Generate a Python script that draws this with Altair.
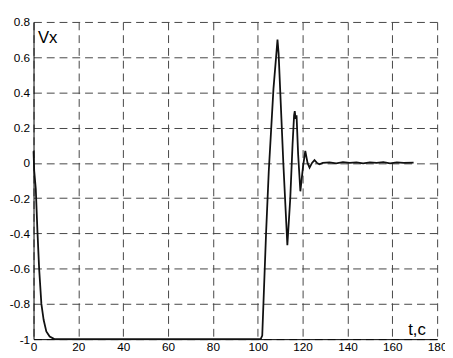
import altair as alt
import pandas as pd

t_vals = [0, 0.3, 1.0, 1.75, 2.5, 3.5, 4.5, 5.7, 7.2, 9.3, 20, 40, 60, 80, 100,
          101.3, 102.0, 103.7, 104.9, 107.0, 108.3, 108.8, 109.3, 111.4, 113.2,
          114.5, 115.5, 116.2, 116.5, 116.9, 117.3, 118.0, 119.0, 120.2, 121.2,
          122.2, 123.1, 124.2, 125.3, 126.4, 127.5, 129, 132, 135, 138, 141, 144,
          147, 150, 153, 156, 159, 162, 165, 169.5]
v_vals = [0.067, -0.045, -0.147, -0.39, -0.60, -0.80, -0.89, -0.956, -0.985, -1.0, -1.0, -1.0, -1.0, -1.0, -1.0,
          -1.0, -0.98, -0.40, -0.05, 0.42, 0.62, 0.70, 0.62, 0.0, -0.467,
          -0.20, 0.10, 0.27, 0.294, 0.25, 0.27, 0.05, -0.161, -0.02, 0.068,
          0.0, -0.027, 0.0, 0.016, 0.0, -0.008, 0.0, 0.003, -0.002, 0.004, 0.0, 0.003,
          -0.002, 0.003, 0.0, 0.004, -0.002, 0.003, 0.0, 0.002]

x_ticks = [0, 20, 40, 60, 80, 100, 120, 140, 160, 180]
y_ticks = [-1, -0.8, -0.6, -0.4, -0.2, 0, 0.2, 0.4, 0.6, 0.8]

df = pd.DataFrame({"t": t_vals, "v": v_vals})

FONT = "Liberation Sans"
label_expr = "replace(format(datum.value, '~g'), '\u2212', '-')"

chart = alt.Chart(df).mark_line(color="#111111", strokeWidth=1.8).encode(
    x=alt.X("t:Q",
            scale=alt.Scale(domain=[0, 180], nice=False, zero=False),
            axis=alt.Axis(values=x_ticks, title="t,c", titleX=381, titleY=-5,
                          titleAlign="left", titleBaseline="alphabetic",
                          titleFontSize=17, titleFontWeight="normal", titleFont=FONT,
                          labelExpr=label_expr, labelPadding=3, ticks=False,
                          grid=True, labelFlush=False)),
    y=alt.Y("v:Q",
            scale=alt.Scale(domain=[-1, 0.8], nice=False, zero=False),
            axis=alt.Axis(values=y_ticks, title="Vx", titleX=4, titleY=21,
                          titleAngle=0, titleAlign="left", titleBaseline="alphabetic",
                          titleFontSize=17, titleFontWeight="normal", titleFont=FONT,
                          labelExpr=label_expr, labelPadding=4, ticks=False,
                          grid=True, labelFlush=False)),
).properties(
    width=411, height=323,
    autosize=alt.AutoSizeParams(type="none"),
    padding={"left": 26, "top": 11, "right": 8, "bottom": 16},
).configure_axis(
    gridColor="#444444", gridDash=[8, 5], gridWidth=1, gridOpacity=1,
    domainColor="#000000", domainWidth=1,
    labelFont=FONT, labelFontSize=12, labelColor="#000000",
    titleColor="#000000",
).configure_view(stroke=None)

chart.save("out.html", embed_options={"renderer": "svg", "actions": False})
